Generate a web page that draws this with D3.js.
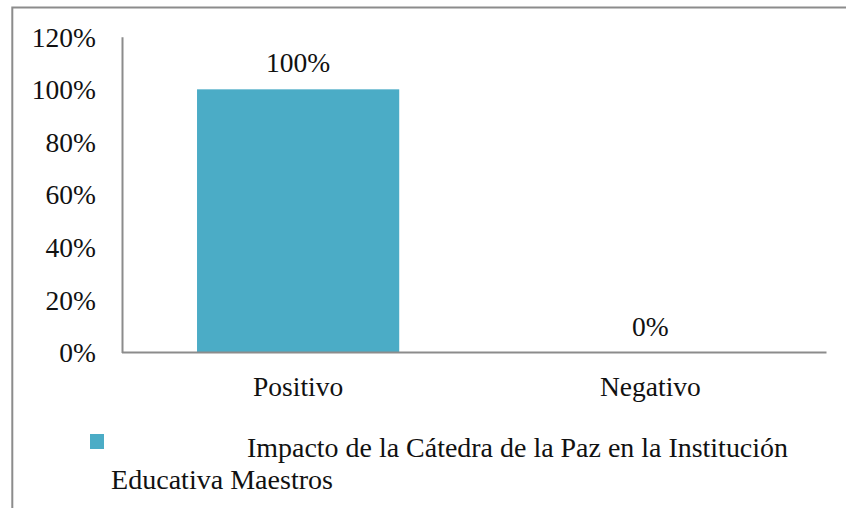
<!DOCTYPE html>
<html>
<head>
<meta charset="utf-8">
<script src="https://cdn.jsdelivr.net/npm/d3@7"></script>
<style>
  html, body { margin: 0; padding: 0; background: #fff; }
  svg { display: block; }
</style>
</head>
<body>
<script>
// Survey result: perceived impact of the peace course
const categories = ["Positivo", "Negativo"];
const values = [1.0, 0.0];
const yTicks = [0, 0.2, 0.4, 0.6, 0.8, 1.0, 1.2];
const seriesName = "Impacto de la Cátedra de la Paz en la Institución";
const seriesNameLine2 = "Educativa Maestros";

const FONT = "'Liberation Serif', 'Times New Roman', serif";
const W = 846, H = 508;
const margin = { left: 122, top: 36.7 };
const plotRight = 826.5, plotBottom = 352.5;
const barColor = "#4BACC6";
const lineColor = "#8c8c8c";
const labelSize = "27.5px";

const svg = d3.select("body").append("svg")
  .attr("width", W).attr("height", H)
  .style("font-family", FONT);

// Outer frame (top and left edges visible)
svg.append("path")
  .attr("d", `M12.3,${H} V7.4 H${W}`)
  .attr("fill", "none")
  .attr("stroke", lineColor)
  .attr("stroke-width", 2);

const x = d3.scaleBand()
  .domain(categories)
  .range([margin.left, plotRight])
  .paddingInner(0.426)
  .paddingOuter(0.213);

const y = d3.scaleLinear()
  .domain([0, 1.2])
  .range([plotBottom, margin.top]);

const rows = categories.map((c, i) => ({ c, v: values[i] }));

// Bars
svg.selectAll("rect.bar")
  .data(rows)
  .join("rect")
  .attr("class", "bar")
  .attr("x", d => x(d.c))
  .attr("y", d => y(d.v))
  .attr("width", x.bandwidth())
  .attr("height", d => y(0) - y(d.v))
  .attr("fill", barColor);

// Y axis
const yAxis = d3.axisLeft(y)
  .tickValues(yTicks)
  .tickFormat(d3.format(".0%"))
  .tickSize(0)
  .tickPadding(26);

const gy = svg.append("g")
  .attr("transform", `translate(${margin.left},0)`)
  .call(yAxis)
  .attr("font-family", FONT);
gy.select(".domain").attr("stroke", lineColor).attr("stroke-width", 2);
gy.selectAll("text")
  .attr("fill", "#111")
  .style("font-size", labelSize)
  .attr("dy", "0.34em");

// X axis
const xAxis = d3.axisBottom(x).tickSize(0).tickPadding(24.5);
const gx = svg.append("g")
  .attr("transform", `translate(0,${plotBottom})`)
  .call(xAxis)
  .attr("font-family", FONT);
gx.select(".domain")
  .attr("d", `M${margin.left},0H${plotRight}`)
  .attr("stroke", lineColor).attr("stroke-width", 2);
gx.selectAll("text")
  .attr("fill", "#111")
  .attr("dy", "0.69em")
  .style("font-size", labelSize);

// Value labels
svg.selectAll("text.vlabel")
  .data(rows)
  .join("text")
  .attr("class", "vlabel")
  .attr("x", d => x(d.c) + x.bandwidth() / 2)
  .attr("y", d => y(d.v) - 17)
  .attr("text-anchor", "middle")
  .attr("fill", "#111")
  .style("font-size", labelSize)
  .text(d => d3.format(".0%")(d.v));

// Legend
svg.append("rect")
  .attr("x", 90).attr("y", 434)
  .attr("width", 14).attr("height", 15)
  .attr("fill", barColor);

svg.append("text")
  .attr("x", 247).attr("y", 457)
  .attr("fill", "#111")
  .attr("textLength", 541)
  .attr("lengthAdjust", "spacingAndGlyphs")
  .style("font-size", "26.5px")
  .text(seriesName);

svg.append("text")
  .attr("x", 111).attr("y", 489)
  .attr("fill", "#111")
  .attr("textLength", 222)
  .attr("lengthAdjust", "spacingAndGlyphs")
  .style("font-size", "26.5px")
  .text(seriesNameLine2);
</script>
</body>
</html>
